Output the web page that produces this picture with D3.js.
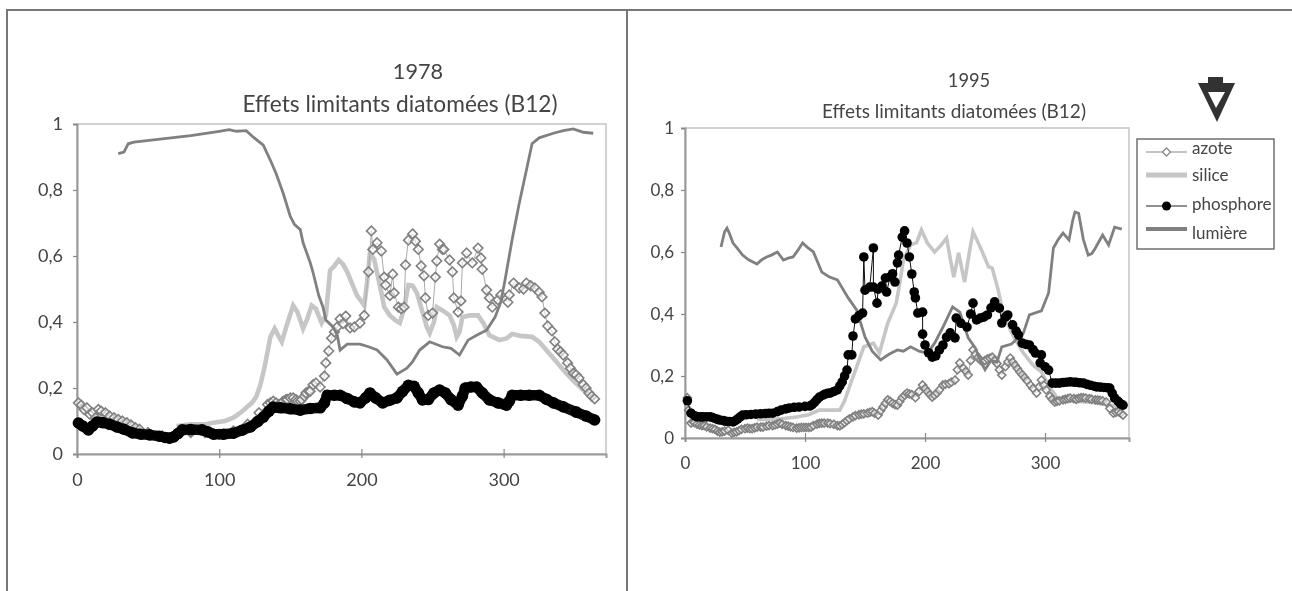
<!DOCTYPE html>
<html>
<head>
<meta charset="utf-8">
<script src="https://cdn.jsdelivr.net/npm/d3@7"></script>
<style>
  html, body { margin: 0; padding: 0; background: #fff; overflow: hidden; }
  text { font-family: Lato, "Open Sans", sans-serif; fill: #444; }
</style>
</head>
<body>
<div id="chart"></div>
<script>
// Values: [day, limiting effect]
var xTicks = [0, 100, 200, 300];
var yTicks = [0, 0.2, 0.4, 0.6, 0.8, 1];
var legendNames = ["azote", "silice", "phosphore", "lumière"];

var silice1978 = [[70,.085],[80,.09],[90,.09],[98,.096],[104,.1],[110,.11],[115,.125],[119,.14],[123,.155],[126,.173],[129,.21],[132,.265],[136,.355],[139,.38],[142,.355],[144,.34],[148,.397],[152,.45],[155,.43],[159,.38],[162,.41],[165,.45],[168,.44],[172,.397],[175,.42],[178,.557],[181,.57],[184,.588],[187,.575],[190,.552],[194,.51],[197,.48],[202,.45],[204,.52],[206,.61],[209,.59],[211,.55],[214,.49],[216,.445],[220,.42],[224,.405],[227,.397],[230,.44],[233,.512],[236,.51],[239,.488],[243,.43],[246,.385],[248,.367],[251,.4],[253,.445],[257,.435],[262,.42],[265,.39],[267,.355],[269,.37],[271,.415],[276,.42],[282,.42],[286,.395],[290,.36],[297,.345],[302,.35],[306,.364],[312,.358],[320,.355],[325,.34],[330,.315],[337,.28],[344,.245],[350,.218],[356,.194],[364,.164]];

var azote1978 = [[1,.155],[3,.148],[5,.135],[7,.14],[9,.12],[11,.125],[13,.11],[15,.135],[17,.13],[20,.125],[23,.115],[26,.11],[29,.105],[32,.1],[35,.095],[38,.088],[41,.08],[44,.075],[50,.065],[60,.055],[70,.06],[80,.065],[90,.065],[100,.06],[110,.07],[120,.09],[128,.125],[134,.15],[136,.155],[138,.16],[140,.155],[142,.15],[144,.155],[145,.16],[147,.165],[148,.165],[150,.17],[152,.17],[154,.165],[155,.16],[157,.16],[158,.165],[160,.175],[161,.185],[163,.19],[164,.19],[166,.21],[168,.215],[171,.203],[174,.236],[175,.276],[177,.312],[179,.351],[181,.37],[183,.385],[185,.409],[187,.395],[189,.418],[192,.382],[195,.385],[199,.397],[202,.42],[205,.552],[207,.676],[208,.62],[211,.64],[214,.615],[216,.536],[217,.512],[220,.48],[222,.545],[223,.488],[226,.445],[228,.44],[230,.445],[231,.573],[233,.648],[236,.667],[238,.645],[240,.62],[242,.57],[244,.54],[245,.473],[247,.42],[250,.427],[252,.536],[253,.585],[255,.636],[257,.62],[258,.62],[262,.588],[264,.552],[265,.473],[268,.43],[270,.464],[271,.579],[274,.609],[278,.579],[282,.624],[284,.594],[285,.56],[288,.497],[290,.473],[292,.445],[296,.467],[298,.482],[303,.46],[304,.482],[307,.518],[311,.503],[314,.5],[316,.518],[319,.51],[322,.503],[325,.49],[327,.476],[329,.427],[331,.388],[334,.373],[336,.34],[338,.318],[340,.31],[342,.3],[345,.276],[347,.26],[349,.245],[351,.24],[353,.23],[356,.21],[358,.2],[360,.185],[362,.175],[364,.167]];

var lumiere1978 = [[29,.91],[33,.915],[36,.94],[40,.945],[60,.955],[80,.965],[100,.978],[107,.983],[112,.978],[119,.98],[124,.96],[131,.936],[136,.89],[140,.85],[145,.79],[150,.72],[153,.695],[157,.68],[159,.64],[164,.58],[166,.55],[170,.48],[173,.445],[175,.406],[180,.385],[183,.36],[185,.315],[190,.333],[199,.333],[205,.325],[211,.315],[218,.285],[225,.242],[232,.26],[236,.28],[241,.315],[248,.34],[257,.325],[263,.32],[269,.3],[275,.345],[281,.36],[288,.375],[294,.415],[298,.46],[301,.527],[306,.65],[311,.76],[316,.86],[320,.94],[325,.958],[335,.972],[342,.98],[349,.985],[356,.975],[363,.972]];

var phosphore1978 = [[1,.094],[4,.085],[8,.073],[11,.085],[14,.097],[18,.095],[23,.09],[28,.082],[33,.075],[39,.064],[45,.06],[51,.058],[58,.054],[62,.05],[65,.048],[68,.052],[71,.062],[74,.073],[80,.074],[88,.073],[92,.067],[96,.06],[103,.06],[110,.063],[116,.072],[122,.082],[127,.098],[131,.112],[135,.13],[138,.142],[143,.14],[150,.137],[157,.133],[164,.138],[171,.14],[174,.155],[176,.178],[181,.178],[185,.178],[190,.168],[195,.158],[199,.155],[203,.17],[206,.185],[210,.17],[215,.155],[220,.163],[225,.17],[229,.19],[233,.208],[237,.205],[240,.185],[243,.164],[247,.165],[251,.185],[255,.194],[259,.185],[263,.165],[268,.148],[271,.175],[273,.2],[277,.203],[281,.203],[285,.185],[290,.164],[296,.155],[302,.148],[304,.16],[306,.178],[312,.178],[318,.178],[325,.178],[330,.166],[335,.155],[342,.143],[351,.127],[358,.115],[364,.103]];

var silice1995 = [[60,.06],[80,.062],[93,.068],[103,.075],[112,.09],[120,.09],[129,.09],[133,.12],[137,.165],[143,.229],[149,.294],[153,.3],[157,.306],[162,.274],[166,.33],[169,.371],[176,.435],[179,.5],[182,.574],[188,.623],[193,.63],[197,.671],[202,.629],[208,.6],[213,.62],[218,.645],[221,.58],[224,.519],[228,.597],[231,.54],[233,.503],[237,.6],[240,.665],[246,.616],[253,.552],[256,.548],[261,.477],[265,.403],[270,.36],[274,.326],[282,.274],[290,.235],[297,.213],[303,.17],[310,.13],[320,.12],[340,.115],[364,.1]];

var azote1995 = [[2,.13],[3,.09],[5,.048],[7,.052],[8,.05],[10,.045],[12,.042],[14,.04],[16,.04],[18,.036],[21,.032],[23,.03],[25,.028],[27,.022],[29,.019],[31,.02],[33,.022],[36,.025],[39,.016],[41,.018],[43,.02],[45,.024],[47,.028],[50,.03],[52,.032],[54,.03],[56,.03],[58,.033],[60,.035],[63,.035],[65,.035],[68,.038],[70,.04],[73,.04],[75,.042],[77,.045],[79,.048],[81,.044],[84,.04],[86,.038],[88,.036],[90,.034],[93,.032],[95,.033],[97,.034],[99,.034],[101,.034],[103,.034],[105,.035],[107,.04],[110,.045],[112,.047],[114,.048],[116,.048],[119,.048],[121,.046],[124,.044],[127,.04],[129,.039],[131,.044],[133,.05],[135,.056],[137,.062],[140,.068],[142,.072],[145,.075],[147,.077],[149,.078],[152,.08],[154,.083],[156,.085],[158,.08],[161,.074],[163,.088],[165,.1],[167,.112],[169,.123],[171,.118],[173,.112],[175,.108],[177,.106],[179,.118],[181,.13],[183,.138],[185,.145],[187,.142],[189,.14],[192,.13],[195,.15],[198,.171],[200,.16],[202,.15],[204,.14],[206,.132],[208,.138],[210,.145],[212,.155],[215,.171],[217,.173],[220,.175],[222,.18],[225,.187],[227,.22],[229,.242],[232,.225],[234,.215],[236,.203],[238,.25],[240,.284],[242,.27],[244,.26],[246,.252],[248,.245],[250,.25],[252,.255],[254,.258],[256,.261],[258,.25],[260,.24],[262,.22],[264,.203],[267,.23],[269,.245],[271,.258],[273,.245],[275,.235],[277,.224],[279,.213],[281,.204],[283,.195],[285,.185],[288,.17],[290,.16],[293,.145],[295,.165],[297,.187],[299,.17],[301,.155],[304,.135],[306,.125],[308,.116],[310,.118],[312,.12],[315,.123],[317,.125],[319,.127],[321,.129],[324,.127],[326,.125],[328,.128],[330,.13],[332,.13],[334,.129],[337,.127],[339,.125],[342,.123],[344,.122],[346,.121],[348,.12],[351,.116],[354,.095],[357,.08],[359,.083],[361,.085],[363,.08],[365,.074]];

var lumiere1995 = [[30,.616],[33,.665],[35,.677],[37,.66],[40,.629],[44,.61],[48,.59],[53,.575],[60,.561],[64,.575],[68,.584],[72,.59],[77,.6],[82,.574],[86,.58],[90,.584],[94,.605],[98,.629],[102,.615],[107,.6],[114,.535],[120,.52],[127,.51],[136,.452],[143,.413],[150,.326],[156,.28],[163,.252],[170,.27],[177,.284],[182,.28],[188,.294],[195,.28],[202,.274],[208,.306],[215,.358],[223,.423],[229,.406],[236,.323],[242,.29],[246,.25],[250,.22],[255,.25],[260,.245],[264,.294],[272,.303],[282,.339],[287,.397],[297,.41],[303,.468],[307,.613],[311,.64],[315,.661],[320,.639],[323,.7],[325,.729],[328,.725],[332,.64],[336,.59],[339,.595],[342,.613],[348,.655],[353,.623],[358,.68],[364,.674]];

var phosphore1995 = [[2,.12],[5,.08],[8,.072],[10,.068],[13,.068],[15,.068],[18,.068],[21,.068],[23,.066],[25,.063],[27,.06],[29,.058],[32,.056],[34,.054],[37,.053],[40,.052],[42,.056],[44,.062],[46,.068],[48,.074],[51,.075],[55,.076],[59,.077],[63,.078],[67,.079],[70,.08],[73,.08],[77,.085],[80,.09],[84,.094],[87,.097],[91,.099],[95,.1],[100,.102],[104,.103],[106,.108],[108,.115],[110,.124],[112,.132],[115,.138],[117,.142],[119,.144],[121,.145],[124,.15],[127,.155],[129,.168],[131,.181],[133,.2],[135,.219],[136,.268],[139,.268],[140,.329],[142,.384],[145,.395],[148,.403],[149,.584],[150,.477],[154,.487],[157,.613],[157,.487],[160,.435],[161,.48],[164,.49],[167,.516],[168,.471],[171,.52],[173,.53],[175,.503],[177,.565],[178,.59],[181,.648],[183,.668],[185,.629],[187,.584],[189,.529],[191,.471],[192,.452],[194,.403],[198,.406],[198,.335],[200,.3],[203,.275],[206,.261],[209,.265],[212,.284],[215,.3],[218,.325],[221,.339],[225,.323],[226,.387],[230,.37],[235,.358],[238,.4],[240,.435],[243,.381],[246,.387],[249,.39],[252,.397],[255,.42],[258,.439],[262,.419],[264,.371],[267,.39],[269,.397],[273,.365],[276,.345],[278,.332],[281,.306],[284,.302],[287,.3],[290,.285],[292,.274],[297,.268],[296,.242],[300,.23],[303,.219],[306,.177],[309,.177],[312,.177],[315,.179],[318,.18],[321,.181],[324,.18],[326,.18],[329,.178],[332,.177],[335,.173],[338,.17],[341,.167],[343,.165],[346,.164],[349,.163],[352,.162],[354,.161],[356,.145],[358,.129],[361,.118],[363,.11],[365,.106]];

var svgWidth = 1292;
var svgHeight = 591;

var svg = d3.select("#chart")
  .append("svg")
  .attr("width", svgWidth)
  .attr("height", svgHeight)
  .style("display", "block");

// Slight softening, the original is a scan
var defs = svg.append("defs");
defs.append("filter").attr("id", "scan")
  .append("feGaussianBlur").attr("stdDeviation", 0.45);

// Page frame
var frameColor = "#777";
[[7, 10, 7, 591], [627, 10, 627, 591], [6, 10, 1292, 10]].forEach(function(l) {
  svg.append("line")
    .attr("x1", l[0]).attr("y1", l[1]).attr("x2", l[2]).attr("y2", l[3])
    .attr("stroke", frameColor).attr("stroke-width", 2);
});

function drawPanel(p) {
  var x = d3.scaleLinear().domain([0, p.xMax]).range([p.left, p.right]);
  var y = d3.scaleLinear().domain([0, 1]).range([p.bottom, p.top]);
  var line = d3.line().x(d => x(d[0])).y(d => y(d[1]));

  var g = svg.append("g").attr("filter", "url(#scan)");

  // Plot border
  g.append("rect")
    .attr("x", p.left).attr("y", p.top)
    .attr("width", p.right - p.left).attr("height", p.bottom - p.top)
    .attr("fill", "none").attr("stroke", "#c4c4c4").attr("stroke-width", 1.5);

  // Axes
  var leftAxis = d3.axisLeft(y).tickValues(yTicks).tickSize(4).tickPadding(p.yPad)
    .tickFormat(d => String(d).replace(".", ","));
  var bottomAxis = d3.axisBottom(x).tickValues(xTicks).tickSize(4).tickPadding(p.xPad);

  var yAxis = g.append("g").attr("transform", `translate(${p.left}, 0)`).call(leftAxis);
  var xAxis = g.append("g").attr("transform", `translate(0, ${p.bottom})`).call(bottomAxis);

  [yAxis, xAxis].forEach(function(a) {
    a.select(".domain").attr("stroke", "#999").attr("stroke-width", 2);
    a.selectAll("line").attr("stroke", "#888").attr("stroke-width", 1.2);
    a.selectAll("text").attr("font-size", p.tickFont).style("fill", "#444");
  });
  xAxis.selectAll(".tick line").attr("y1", -5);
  xAxis.selectAll(".tick").filter(d => d === 0).select("line").attr("y1", 0);

  // Series
  g.append("path").attr("d", line(p.silice))
    .attr("fill", "none").attr("stroke", "#c6c6c6").attr("stroke-width", p.siliceWidth);

  g.append("path").attr("d", line(p.azote))
    .attr("fill", "none").attr("stroke", "#aaa").attr("stroke-width", 1);
  g.selectAll(".azote").data(p.azote).enter().append("path")
    .attr("class", "azote")
    .attr("transform", d => `translate(${x(d[0])}, ${y(d[1])})`)
    .attr("d", `M0,${-p.azoteR}L${p.azoteR},0L0,${p.azoteR}L${-p.azoteR},0Z`)
    .attr("fill", "#fff").attr("fill-opacity", 0.55)
    .attr("stroke", "#808080").attr("stroke-width", 1.6);

  g.append("path").attr("d", line(p.lumiere))
    .attr("fill", "none").attr("stroke", "#808080").attr("stroke-width", p.lumiereWidth);

  g.append("path").attr("d", line(p.phosphore))
    .attr("fill", "none").attr("stroke", "#111").attr("stroke-width", p.phosphoreWidth)
    .attr("stroke-linejoin", "round");
  g.selectAll(".phosphore").data(p.phosphore).enter().append("circle")
    .attr("class", "phosphore")
    .attr("cx", d => x(d[0]))
    .attr("cy", d => y(d[1]))
    .attr("r", p.dotR)
    .attr("fill", "#000");

  // Titles
  g.append("text").attr("x", p.yearX).attr("y", p.yearY)
    .attr("text-anchor", "middle").attr("font-size", p.yearFont).text(p.year);
  g.append("text").attr("x", p.titleX).attr("y", p.titleY)
    .attr("text-anchor", "middle").attr("font-size", p.titleFont)
    .text("Effets limitants diatomées (B12)");
}

drawPanel({
  left: 77, right: 606, top: 124, bottom: 454, xMax: 372,
  yPad: 10, xPad: 15, tickFont: 18,
  siliceWidth: 4.6, lumiereWidth: 2.8, phosphoreWidth: 10.5,
  silice: silice1978, azote: azote1978, lumiere: lumiere1978, phosphore: phosphore1978,
  azoteR: 4.8, dotR: 5.8,
  year: "1978", yearX: 418, yearY: 79, yearFont: 21.7,
  titleX: 400, titleY: 112, titleFont: 22.7
});

drawPanel({
  left: 685, right: 1129, top: 128, bottom: 438, xMax: 370,
  yPad: 7, xPad: 15, tickFont: 17,
  siliceWidth: 3.6, lumiereWidth: 2.8, phosphoreWidth: 1,
  silice: silice1995, azote: azote1995, lumiere: lumiere1995, phosphore: phosphore1995,
  azoteR: 4, dotR: 4.8,
  year: "1995", yearX: 969, yearY: 87, yearFont: 18.3,
  titleX: 954, titleY: 118, titleFont: 19
});

// Legend
var legend = svg.append("g").attr("filter", "url(#scan)");
legend.append("rect")
  .attr("x", 1137).attr("y", 139).attr("width", 137).attr("height", 110)
  .attr("fill", "#fff").attr("stroke", "#666").attr("stroke-width", 1.4);

var legendTextY = [154, 181, 210, 239];
var legendLineY = [152, 175, 206, 229];
var legendStyle = [["#888", 1], ["#c6c6c6", 5], ["#222", 1], ["#808080", 4]];

legendNames.forEach(function(name, i) {
  legend.append("line")
    .attr("x1", 1146).attr("x2", 1187)
    .attr("y1", legendLineY[i]).attr("y2", legendLineY[i])
    .attr("stroke", legendStyle[i][0]).attr("stroke-width", legendStyle[i][1]);
  legend.append("text")
    .attr("x", 1192).attr("y", legendTextY[i])
    .attr("font-size", 17).text(name);
});
legend.append("path")
  .attr("transform", `translate(1166.5, ${legendLineY[0]})`)
  .attr("d", "M0,-4L4,0L0,4L-4,0Z")
  .attr("fill", "#fff").attr("stroke", "#888").attr("stroke-width", 1.3);
legend.append("circle")
  .attr("cx", 1166.5).attr("cy", legendLineY[2]).attr("r", 4.5).attr("fill", "#000");

// Orientation mark above the legend
svg.append("path")
  .attr("fill", "#333")
  .attr("fill-rule", "evenodd")
  .attr("filter", "url(#scan)")
  .attr("d", "M1208,77H1223V83H1235L1217,122L1198,83H1208ZM1208,92L1216,108L1225,92Z");
</script>
</body>
</html>
